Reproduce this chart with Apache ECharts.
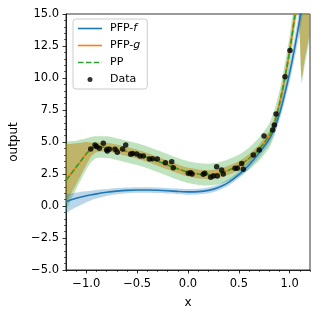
<!DOCTYPE html>
<html><head><meta charset="utf-8">
<script src="https://cdn.jsdelivr.net/npm/echarts@6/dist/echarts.min.js"></script>
<style>html,body{margin:0;padding:0;background:#fff}#c{width:319px;height:318px}</style>
</head><body><div id="c"></div><script>
// ---- data ----
const lineX  = [-1.2,-1.15,-1.1,-1.05,-1.0,-0.95,-0.9,-0.8,-0.7,-0.6,-0.5,-0.4,-0.3,-0.2,-0.1,0,0.1,0.2,0.3,0.4,0.5,0.6,0.7,0.8,0.85,0.9,0.95,1.0,1.05,1.1,1.15,1.2];
const ppMean = [2.0,2.52,3.04,3.56,4.08,4.45,4.6,4.6,4.45,4.25,4.05,3.8,3.5,3.2,2.9,2.65,2.5,2.45,2.55,2.8,3.15,3.7,4.45,5.5,6.5,8.0,9.9,12.1,14.8,18.0,21.8,26];
const gMean  = [2.0,2.52,3.04,3.56,4.08,4.45,4.6,4.6,4.45,4.25,4.05,3.8,3.5,3.2,2.9,2.65,2.5,2.45,2.55,2.8,3.15,3.7,4.45,5.5,6.5,8.0,9.9,12.1,14.8,18.0,21.8,26];
const fMean  = [0.33,0.48,0.6,0.71,0.8,0.88,0.95,1.07,1.16,1.22,1.25,1.25,1.23,1.19,1.14,1.1,1.12,1.22,1.45,1.85,2.45,3.2,4.15,5.25,6.1,7.2,8.7,10.4,12.4,14.6,17.2,20];
const fUpper = [0.88,0.97,1.05,1.12,1.15,1.2,1.25,1.32,1.4,1.45,1.47,1.47,1.45,1.41,1.36,1.32,1.34,1.44,1.68,2.1,2.72,3.5,4.5,5.65,6.55,7.7,9.3,11.1,13.2,15.6,18.4,21.5];
const fLower = [-0.57,-0.3,-0.1,0.1,0.3,0.45,0.58,0.78,0.92,1.0,1.03,1.03,1.01,0.97,0.92,0.88,0.9,0.99,1.22,1.6,2.18,2.9,3.8,4.85,5.65,6.7,8.1,9.7,11.6,13.6,16.0,18.5];

const bandX   = [-1.2,-1.15,-1.1,-1.05,-1.0,-0.95,-0.9,-0.8,-0.7,-0.6,-0.5,-0.4,-0.3,-0.2,-0.1,0,0.1,0.2,0.3,0.4,0.5,0.6,0.7,0.8,0.85,0.9,0.95,1.0,1.05,1.085,1.1,1.118,1.15,1.2];
const gLower  = [0.2,0.95,1.7,2.45,3.2,3.9,4.2,4.25,4.1,3.9,3.7,3.45,3.15,2.85,2.55,2.3,2.15,2.1,2.2,2.45,2.8,3.35,4.1,5.1,6.1,7.6,9.4,11.6,14.4,15.3,13.2,10.0,11.5,13.8];
const gUpper  = [4.8,4.85,4.9,4.95,5.0,4.95,4.95,4.95,4.8,4.6,4.4,4.15,3.85,3.55,3.25,3.0,2.85,2.8,2.9,3.15,3.5,4.05,4.8,5.9,6.9,8.4,10.4,12.7,15.6,18.5,20,21.5,25,30];
const ppLower = [-0.3,0.5,1.3,2.1,2.85,3.45,3.75,3.75,3.6,3.4,3.2,2.95,2.65,2.35,2.05,1.8,1.65,1.6,1.7,1.95,2.3,2.85,3.55,4.55,5.5,7.0,8.8,10.9,13.7,15.5,12.8,9.6,11.1,13.4];
const ppUpper = [5.0,5.05,5.1,5.2,5.3,5.4,5.45,5.45,5.3,5.1,4.9,4.65,4.35,4.05,3.75,3.5,3.35,3.3,3.4,3.65,4.0,4.55,5.35,6.45,7.5,9.0,11.0,13.3,16.2,18.5,20,21.5,24,29];

const dataX = [-0.957,-0.915,-0.90,-0.872,-0.833,-0.80,-0.794,-0.774,-0.718,-0.695,-0.643,-0.613,-0.564,-0.545,-0.505,-0.472,-0.44,-0.38,-0.35,-0.302,-0.223,-0.16,-0.145,0.003,0.026,0.04,0.15,0.165,0.223,0.249,0.282,0.288,0.331,0.347,0.462,0.485,0.528,0.544,0.642,0.701,0.748,0.833,0.849,0.866,0.954,1.003];
const dataY = [4.45,4.77,4.64,4.51,4.9,4.4,4.3,4.43,4.43,4.2,4.45,4.77,4.04,4.1,4.06,3.9,3.9,3.67,3.7,3.67,3.38,3.46,2.99,2.55,2.6,2.5,2.48,2.55,2.24,2.34,3.07,2.34,2.81,2.5,2.95,2.95,3.33,2.87,3.98,4.375,5.47,5.94,6.33,7.19,10.1,12.14];

const xTicks = [-1.0,-0.5,0.0,0.5,1.0];
const yTicks = [-5,-2.5,0,2.5,5,7.5,10,12.5,15];
const legendNames = ['PFP-f','PFP-g','PP','Data'];

// ---- chart ----
const FONT = 'DejaVu Sans';
const fmt = v => (v < 0 ? '\u2212' : '') + Math.abs(v).toFixed(1);
const pairs = (xs, ys) => xs.map((x, i) => [x, ys[i]]);
const FRAME = 'M0,0L0,0M24,10L24,10';
const ICON_SOLID = 'path://' + FRAME + 'M0,4.2h24v1.6h-24z';
const ICON_DASH = 'path://' + FRAME + 'M0,4.2h5.5v1.6h-5.5zM7.9,4.2h5.5v1.6h-5.5zM15.8,4.2h5.5v1.6h-5.5zM23.7,4.2h0.3v1.6h-0.3z';
const ICON_DOT = 'path://' + FRAME + 'M14.5,5a2.5,2.5 0 1,0 -5,0a2.5,2.5 0 1,0 5,0z';

function band(xs, lo, hi, color, z) {
  return {
    type: 'custom', coordinateSystem: 'cartesian2d', clip: true, silent: true, z: z,
    data: [[xs[0], lo[0]]],
    renderItem: function (params, api) {
      const pts = [];
      for (let i = 0; i < xs.length; i++) pts.push(api.coord([xs[i], hi[i]]));
      for (let i = xs.length - 1; i >= 0; i--) pts.push(api.coord([xs[i], lo[i]]));
      return { type: 'polygon', shape: { points: pts, smooth: 0.2 }, style: { fill: color } };
    }
  };
}

const chart = echarts.init(document.getElementById('c'), null, { renderer: 'canvas' });
chart.setOption({
  animation: false,
  textStyle: { fontFamily: FONT },
  grid: { left: 66, right: 9, top: 14, bottom: 48, show: true, borderColor: '#000', borderWidth: 0.8, backgroundColor: 'transparent' },
  legend: {
    orient: 'vertical', left: 73, top: 19,
    data: [
      { name: legendNames[0], icon: ICON_SOLID }, { name: legendNames[1], icon: ICON_SOLID },
      { name: legendNames[2], icon: ICON_DASH }, { name: legendNames[3], icon: ICON_DOT }
    ],
    itemWidth: 24, itemHeight: 10, itemGap: 6,
    padding: [4, 7, 4, 5],
    backgroundColor: 'rgba(255,255,255,0.8)', borderColor: '#cccccc', borderWidth: 1, borderRadius: 3,
    formatter: function (name) {
      if (name === 'PFP-f') return 'PFP-{i|f}';
      if (name === 'PFP-g') return 'PFP-{i|g}';
      return name;
    },
    textStyle: { fontFamily: FONT, fontSize: 11, color: '#000', padding: [0, 0, 0, 3],
      rich: { i: { fontFamily: FONT, fontSize: 11, fontStyle: 'italic', color: '#000' } } }
  },
  xAxis: [
    { type: 'value', min: -1.2, max: 1.2, interval: 0.1, position: 'bottom',
      axisLine: { show: false, onZero: false }, splitLine: { show: false }, axisLabel: { show: false },
      axisTick: { show: true, length: 2, lineStyle: { color: '#000', width: 0.6 } } },
    { type: 'value', min: -1.2, max: 1.2, position: 'bottom',
      axisLine: { show: true, onZero: false, lineStyle: { color: '#000', width: 0.8 } }, splitLine: { show: false },
      axisTick: { show: true, length: 3.5, customValues: xTicks, lineStyle: { color: '#000', width: 0.8 } },
      axisLabel: { customValues: xTicks, formatter: fmt, color: '#000', fontFamily: FONT, fontSize: 11.5, margin: 8 },
      name: 'x', nameLocation: 'middle', nameGap: 27,
      nameTextStyle: { color: '#000', fontFamily: FONT, fontSize: 12 } }
  ],
  yAxis: {
    type: 'value', min: -5, max: 15, interval: 2.5,
    axisLine: { show: true, onZero: false, lineStyle: { color: '#000', width: 0.8 } }, splitLine: { show: false },
    axisTick: { show: true, length: 3.5, customValues: yTicks, lineStyle: { color: '#000', width: 0.8 } },
    minorTick: { show: true, splitNumber: 5, length: 2, lineStyle: { color: '#000', width: 0.6 } },
    axisLabel: { customValues: yTicks, formatter: fmt, color: '#000', fontFamily: FONT, fontSize: 11.5, margin: 7 },
    name: 'output', nameLocation: 'middle', nameGap: 42,
    nameTextStyle: { color: '#000', fontFamily: FONT, fontSize: 12 }
  },
  series: [
    band(bandX, gLower, gUpper, 'rgba(255,127,14,0.5)', 1),
    band(bandX, ppLower, ppUpper, 'rgba(44,160,44,0.3)', 2),
    band(lineX, fLower, fUpper, 'rgba(31,119,180,0.3)', 3),
    { name: 'PFP-f', type: 'line', data: pairs(lineX, fMean), showSymbol: false, symbol: 'none', smooth: 0.25, clip: true, z: 4,
      itemStyle: { color: '#1f77b4' }, lineStyle: { color: '#1f77b4', width: 1.6 } },
    { name: 'PFP-g', type: 'line', data: pairs(lineX, gMean), showSymbol: false, symbol: 'none', smooth: 0.25, clip: true, z: 5,
      itemStyle: { color: '#ff7f0e' }, lineStyle: { color: '#ff7f0e', width: 1.6 } },
    { name: 'PP', type: 'line', data: pairs(lineX, ppMean), showSymbol: false, symbol: 'none', smooth: 0.25, clip: true, z: 6,
      itemStyle: { color: '#2ca02c' }, lineStyle: { color: '#2ca02c', width: 1.6, type: [5.5, 2.4] } },
    { name: 'Data', type: 'scatter', data: pairs(dataX, dataY), symbol: 'circle', symbolSize: 5.5, z: 7,
      itemStyle: { color: '#000' } }
  ]
});
</script></body></html>
